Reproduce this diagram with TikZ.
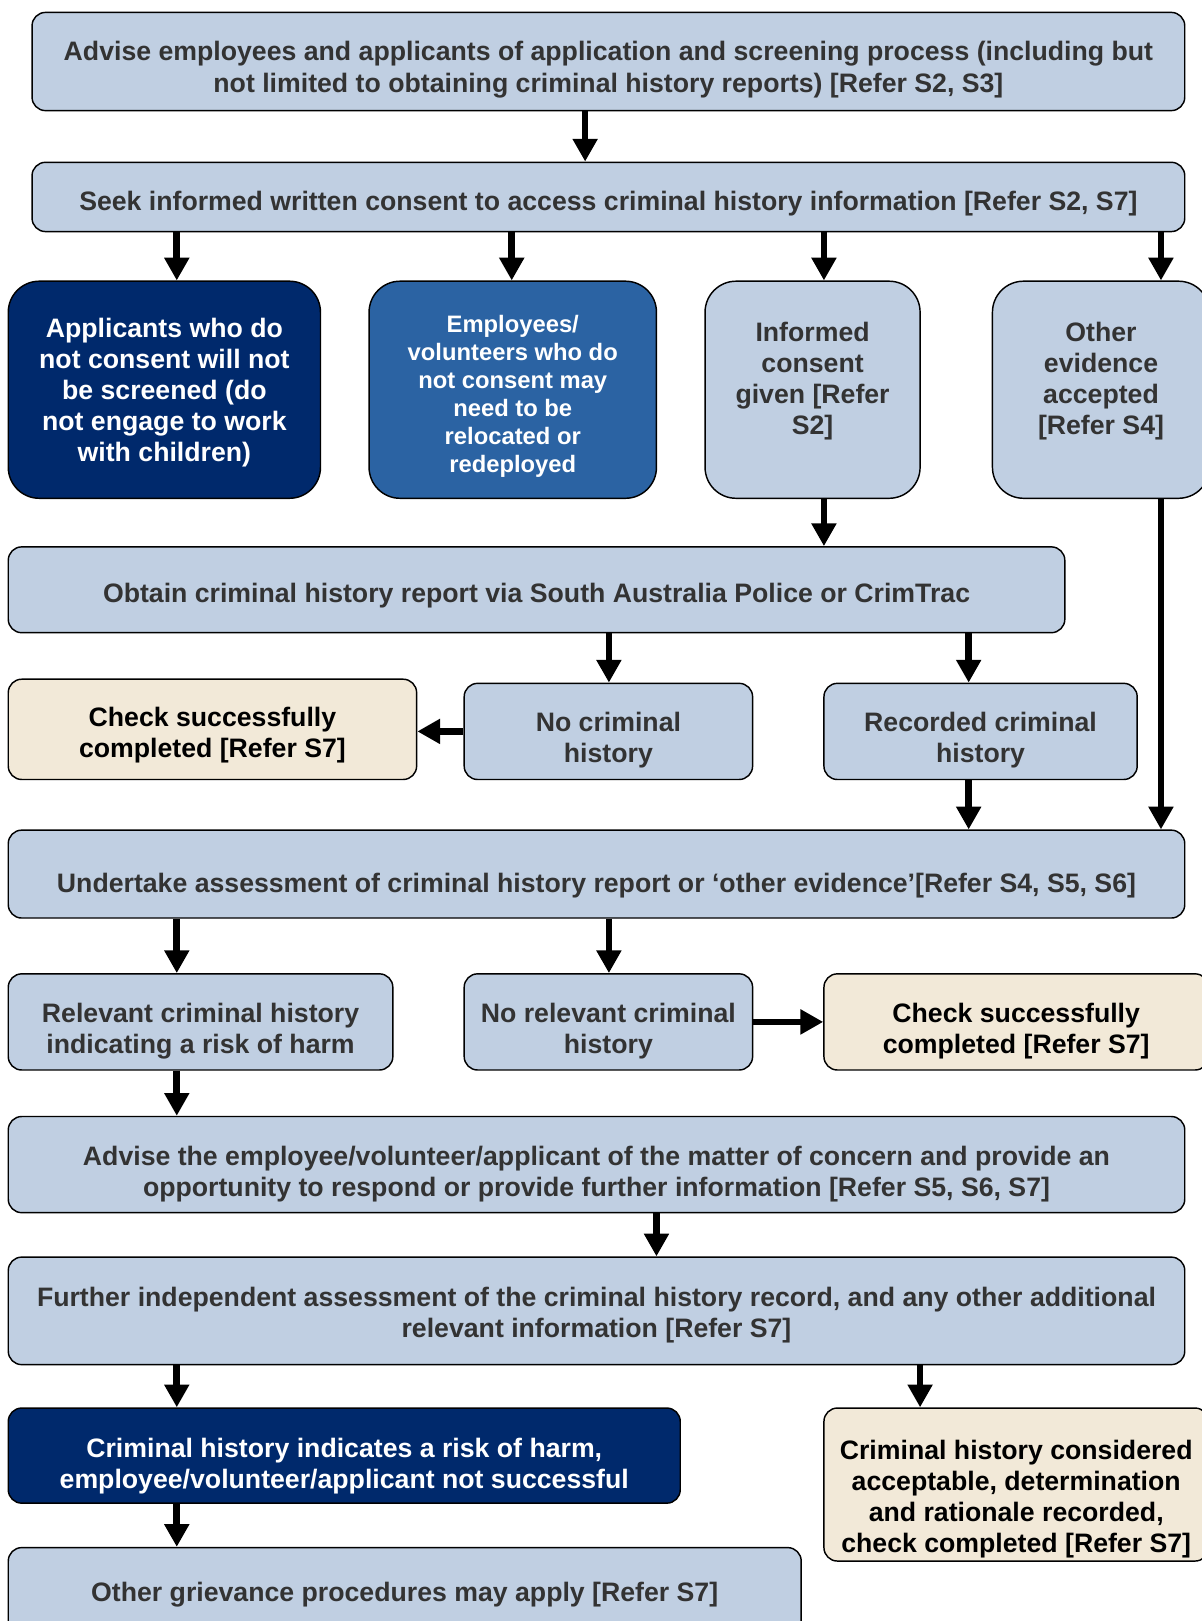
\documentclass[tikz,border=0pt]{standalone}
\usepackage{fontspec}
\setmainfont{Liberation Sans}
\usetikzlibrary{arrows.meta}
\definecolor{lblue}{RGB}{192,207,226}
\definecolor{navy}{RGB}{0,41,108}
\definecolor{mblue}{RGB}{43,99,163}
\definecolor{beige}{RGB}{242,233,216}
\definecolor{txtgray}{RGB}{51,51,51}
\begin{document}
\begin{tikzpicture}[x=1pt,y=-1pt,
  box/.style={draw=black, line width=1.4pt, rounded corners=13pt, fill=lblue, text=txtgray,
    align=center, inner sep=0pt, font=\fontsize{25.8}{30}\selectfont\bfseries, text depth=0pt},
  tallbox/.style={box, rounded corners=30pt},
  navybox/.style={fill=navy, text=white},
  mbluebox/.style={fill=mblue, text=white},
  beigebox/.style={fill=beige, text=black},
  arr/.style={line width=6.5pt, -{Triangle[width=23pt,length=22pt]}}
]
\useasboundingbox (0,0) rectangle (1162,1568);

% row 1-2
\node[box, minimum width=1115pt, minimum height=95pt, text height=59pt] (A) at (588.5,59.5)
  {Advise employees and applicants of application and screening process (including but\\not limited to obtaining criminal history reports) [Refer S2, S3]};
\node[box, minimum width=1115pt, minimum height=67pt, text height=27pt] (B) at (588.5,190.5)
  {Seek informed written consent to access criminal history information [Refer S2, S7]};

% row 3
\node[tallbox, navybox, minimum width=302pt, minimum height=210pt] (C1) at (159,377)
  {Applicants who do\\not consent will not\\be screened (do\\not engage to work\\with children)};
\node[tallbox, mbluebox, minimum width=278pt, minimum height=210pt,
  font=\fontsize{23}{27}\selectfont\bfseries, text height=160pt] (C2) at (496,377)
  {Employees/\\volunteers who do\\not consent may\\need to be\\relocated or\\redeployed};
\node[tallbox, minimum width=208pt, minimum height=210pt, text height=171pt] (C3) at (786,377)
  {Informed\\consent\\given {[Refer}\\S2{]}\\[12pt]\mbox{}};
\node[tallbox, minimum width=210pt, minimum height=210pt, text height=171pt] (C4) at (1065,377)
  {Other\\evidence\\accepted\\{[Refer S4]}\\[12pt]\mbox{}};

% row 4
\node[box, minimum width=1022pt, minimum height=83pt, text height=25pt] (D) at (519,570.5)
  {Obtain criminal history report via South Australia Police or CrimTrac};

% row 5
\node[box, beigebox, minimum width=395pt, minimum height=97pt, text height=55pt] (E1) at (205.5,705.5)
  {Check successfully\\completed [Refer S7]};
\node[box, minimum width=279pt, minimum height=93pt, text height=61pt] (E2) at (588.5,707.5)
  {No criminal\\history};
\node[box, minimum width=303pt, minimum height=93pt, text height=61pt] (E3) at (948.5,707.5)
  {Recorded criminal\\history};

% row 6
\node[box, minimum width=1138pt, minimum height=85pt, text height=35pt] (F) at (577,845.5)
  {Undertake assessment of criminal history report or ‘other evidence’[Refer S4, S5, S6]};

% row 7
\node[box, minimum width=372pt, minimum height=93pt, text height=61pt] (G1) at (194,988.5)
  {Relevant criminal history\\indicating a risk of harm};
\node[box, minimum width=279pt, minimum height=93pt, text height=61pt] (G2) at (588.5,988.5)
  {No relevant criminal\\history};
\node[box, beigebox, minimum width=372pt, minimum height=93pt, text height=61pt] (G3) at (983,988.5)
  {Check successfully\\completed [Refer S7]};

% row 8-9
\node[box, minimum width=1138pt, minimum height=93pt, text height=61pt] (H) at (577,1126.5)
  {Advise the employee/volunteer/applicant of the matter of concern and provide an\\opportunity to respond or provide further information [Refer S5, S6, S7]};
\node[box, minimum width=1138pt, minimum height=104pt, text height=51pt] (I) at (577,1268)
  {Further independent assessment of the criminal history record, and any other additional\\relevant information [Refer S7]};

% row 10
\node[box, navybox, minimum width=650pt, minimum height=92pt, text height=63pt] (J1) at (333,1408)
  {Criminal history indicates a risk of harm,\\employee/volunteer/applicant not successful};
\node[box, beigebox, minimum width=372pt, minimum height=148pt, text height=132pt] (J2) at (983,1436)
  {\mbox{}\\[-8pt]Criminal history considered\\acceptable, determination\\and rationale recorded,\\check completed [Refer S7]};

% row 11
\node[box, minimum width=767pt, minimum height=86pt] (K) at (391.5,1540)
  {Other grievance procedures may apply [Refer S7]};

% x positions for connectors
\coordinate (x171) at (171,0);
\coordinate (x495) at (495,0);
\coordinate (x566) at (566,0);
\coordinate (x589) at (589,0);
\coordinate (x635) at (635,0);
\coordinate (x797) at (797,0);
\coordinate (x890) at (890,0);
\coordinate (x937) at (937,0);
\coordinate (x1123) at (1123,0);

% connectors
\draw[arr] (A.south -| x566) -- (B.north -| x566);
\draw[arr] (B.south -| x171) -- (C1.north -| x171);
\draw[arr] (B.south -| x495) -- (C2.north -| x495);
\draw[arr] (B.south -| x797) -- (C3.north -| x797);
\draw[arr] (B.south -| x1123) -- (C4.north -| x1123);
\draw[arr] (C3.south -| x797) -- (D.north -| x797);
\draw[arr] (C4.south -| x1123) -- (F.north -| x1123);
\draw[arr] (D.south -| x589) -- (E2.north -| x589);
\draw[arr] (D.south -| x937) -- (E3.north -| x937);
\draw[arr] (E2.west) -- (E1.east |- E2.west);
\draw[arr] (E3.south -| x937) -- (F.north -| x937);
\draw[arr] (F.south -| x171) -- (G1.north -| x171);
\draw[arr] (F.south -| x589) -- (G2.north -| x589);
\draw[arr] (G2.east) -- (G3.west);
\draw[arr] (G1.south -| x171) -- (H.north -| x171);
\draw[arr] (H.south -| x635) -- (I.north -| x635);
\draw[arr] (I.south -| x171) -- (J1.north -| x171);
\draw[arr] (I.south -| x890) -- (J2.north -| x890);
\draw[arr] (J1.south -| x171) -- (K.north -| x171);
\end{tikzpicture}
\end{document}
